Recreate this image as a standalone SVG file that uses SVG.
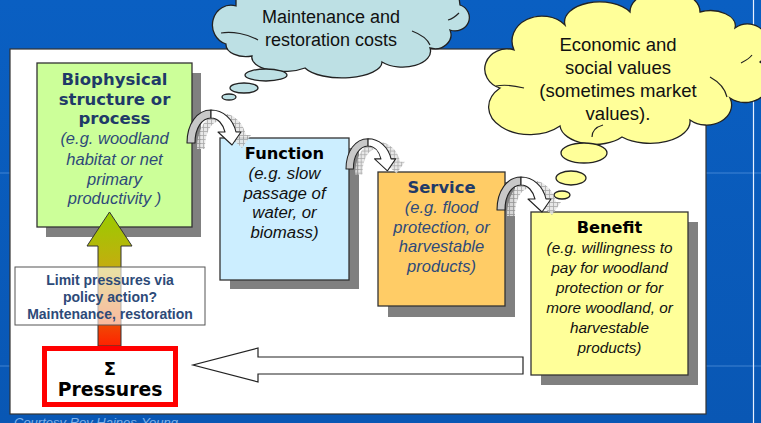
<svg xmlns="http://www.w3.org/2000/svg" width="761" height="423" viewBox="0 0 761 423">
<defs>
<style>
.box{stroke:#333;stroke-width:1.3}
.shadow{fill:#808080}
.hd{font-family:"DejaVu Sans",Verdana,sans-serif;font-weight:bold;text-anchor:middle}
.it{font-family:"Liberation Sans",Arial,sans-serif;font-style:italic;text-anchor:middle}
.cl{font-family:"Liberation Sans",Arial,sans-serif;text-anchor:middle;fill:#111}
.cloud{stroke:#222;stroke-width:1.3}
.fold{fill:none;stroke:#222;stroke-width:1.2}
.ca{stroke:#222;stroke-width:1.1;stroke-linejoin:round}
.lim{font-family:"Liberation Sans",Arial,sans-serif;font-weight:bold;font-size:14px;fill:#2d4a78;text-anchor:middle}
</style>
<linearGradient id="bg" x1="0" y1="0" x2="0" y2="1">
<stop offset="0" stop-color="#0a5fc2"/>
<stop offset="1" stop-color="#0957b4"/>
</linearGradient>
<linearGradient id="up" x1="0" y1="212" x2="0" y2="346" gradientUnits="userSpaceOnUse">
<stop offset="0" stop-color="#99cc00"/>
<stop offset="0.45" stop-color="#c8aa10"/>
<stop offset="1" stop-color="#ff2200"/>
</linearGradient>
<pattern id="hatch" width="4" height="4" patternUnits="userSpaceOnUse">
<rect width="4" height="4" fill="#e4e4e4"/>
<path d="M0,0.5H4M0.5,0V4" stroke="#9a9a9a" stroke-width="0.8"/>
</pattern>
<g id="carrow">
<path d="M10,6 C10,-14 20,-30 34,-30 C46,-30 56,-21 59,-8 L64,-8 L55,5 L41,-8 L48,-8 C46,-16 41,-22 34,-22 C25,-22 18,-12 18,6 Z" fill="url(#hatch)" opacity="0.85"/>
<path class="ca" d="M0,0 C0,-19 10,-33 24,-33 L24,-25 C15,-25 8,-15 8,0 Z" fill="#c8c8c8"/>
<path class="ca" d="M24,-33 C36,-33 46,-24 49,-11 L54,-11 L45,2 L31,-11 L38,-11 C36,-19 31,-25 24,-25 Z" fill="#ffffff"/>
</g>
</defs>

<rect width="761" height="423" fill="url(#bg)"/>
<g opacity="0.25" stroke="#9cc8ff" stroke-width="1.5">
<line x1="0" y1="173" x2="761" y2="173"/>
<line x1="0" y1="366" x2="761" y2="366"/>
</g>
<line x1="753.5" y1="0" x2="753.5" y2="423" stroke="#e8f0ff" stroke-width="1.2"/>
<text x="14" y="427" font-family="Liberation Sans,Arial,sans-serif" font-style="italic" font-size="13" fill="#7fb2ea">Courtesy Roy Haines-Young</text>

<rect x="10" y="49" width="696" height="365" fill="#ffffff" stroke="#333" stroke-width="1.2"/>

<g id="cloud-costs">
<path class="cloud" fill="#bde0e4" d="M226,44 A16,17 0 0 1 236,6 L236,-10 L458,-10 L460,5 A14,13 0 0 1 450,30 A16,14 0 0 1 430,48 A28,16 0 0 1 382,62 A40,16 0 0 1 305,68 A32,14 0 0 1 252,56 A20,12 0 0 1 226,44 Z"/>
<path class="fold" d="M221,33 C232,31 248,34 258,40"/>
<path class="fold" d="M412,31 C420,34 427,38 430,45"/>
<path class="fold" d="M448,20 C452,19 456,16 459,13"/>
<text class="cl" font-size="18" x="331" y="23">Maintenance and</text>
<text class="cl" font-size="18" x="331" y="46">restoration costs</text>
<ellipse cx="266" cy="75" rx="21" ry="6" fill="#bde0e4" class="cloud"/>
<ellipse cx="244" cy="88" rx="14" ry="5" fill="#bde0e4" class="cloud"/>
<ellipse cx="229" cy="97" rx="7" ry="3" fill="#bde0e4" class="cloud"/>
</g>

<g id="cloud-values">
<path class="cloud" fill="#ffff99" d="M500,88 A20,18 0 0 1 514,50 A30,25 0 0 1 565,25 A35,20 0 0 1 630,12 A35,22 0 0 1 700,12 A25,15 0 0 1 735,28 A18,18 0 0 1 760,62 A20,18 0 0 1 730,98 A25,20 0 0 1 690,120 A40,22 0 0 1 622,137 A35,20 0 0 1 560,126 A30,20 0 0 1 500,88 Z"/>
<path class="fold" d="M496,86 C506,84 516,86 524,88"/>
<path class="fold" d="M710,77 C719,82 725,88 727,97"/>
<path class="fold" d="M592,137 C592,131 596,127 603,125"/>
<path class="fold" d="M752,55 C749,59 745,61 741,63"/>
<text class="cl" font-size="18.5" x="618" y="51">Economic and</text>
<text class="cl" font-size="18.5" x="618" y="74">social values</text>
<text class="cl" font-size="18.5" x="618" y="97">(sometimes market</text>
<text class="cl" font-size="18.5" x="618" y="120">values).</text>
<ellipse cx="584" cy="153" rx="23" ry="10" fill="#ffff99" class="cloud"/>
<ellipse cx="571" cy="178" rx="15" ry="7" fill="#ffff99" class="cloud"/>
<ellipse cx="562" cy="195" rx="8" ry="4" fill="#ffff99" class="cloud"/>
</g>

<g id="node-biophysical">
<rect class="shadow" x="46" y="73" width="155" height="164"/>
<rect class="box" x="37" y="63" width="155" height="164" fill="#ccff99"/>
<text class="hd" font-size="16.5" fill="#1f3a68" x="114.5" y="85">Biophysical</text>
<text class="hd" font-size="16.5" fill="#1f3a68" x="114.5" y="105">structure or</text>
<text class="hd" font-size="16.5" fill="#1f3a68" x="114.5" y="124">process</text>
<text class="it" font-size="16.5" fill="#2e4a7a" x="114.5" y="144">(e.g. woodland</text>
<text class="it" font-size="16.5" fill="#2e4a7a" x="114.5" y="165">habitat or net</text>
<text class="it" font-size="16.5" fill="#2e4a7a" x="114.5" y="185">primary</text>
<text class="it" font-size="16.5" fill="#2e4a7a" x="114.5" y="204">productivity )</text>
</g>

<g id="node-function">
<rect class="shadow" x="230" y="148" width="129" height="141"/>
<rect class="box" x="220" y="138" width="129" height="142" fill="#cceeff"/>
<text class="hd" font-size="16.3" fill="#000" x="284.5" y="159">Function</text>
<text class="it" font-size="16.8" fill="#111" x="284.5" y="179">(e.g. slow</text>
<text class="it" font-size="16.8" fill="#111" x="284.5" y="199">passage of</text>
<text class="it" font-size="16.8" fill="#111" x="284.5" y="218">water, or</text>
<text class="it" font-size="16.8" fill="#111" x="284.5" y="238">biomass)</text>
</g>

<g id="node-service">
<rect class="shadow" x="388" y="182" width="127" height="135"/>
<rect class="box" x="378" y="172" width="127" height="134" fill="#ffcc66"/>
<text class="hd" font-size="16.4" fill="#1f3a68" x="441.5" y="193">Service</text>
<text class="it" font-size="16.5" fill="#2e4a7a" x="441.5" y="213">(e.g. flood</text>
<text class="it" font-size="16.5" fill="#2e4a7a" x="441.5" y="233">protection, or</text>
<text class="it" font-size="16.5" fill="#2e4a7a" x="441.5" y="252">harvestable</text>
<text class="it" font-size="16.5" fill="#2e4a7a" x="441.5" y="272">products)</text>
</g>

<g id="node-benefit">
<rect class="shadow" x="541" y="222" width="157" height="163"/>
<rect class="box" x="531" y="212" width="157" height="163" fill="#ffff99"/>
<text class="hd" font-size="16.2" fill="#000" x="609.5" y="233">Benefit</text>
<text class="it" font-size="15.3" fill="#111" x="609.5" y="253">(e.g. willingness to</text>
<text class="it" font-size="15.3" fill="#111" x="609.5" y="273">pay for woodland</text>
<text class="it" font-size="15.3" fill="#111" x="609.5" y="293">protection or for</text>
<text class="it" font-size="15.3" fill="#111" x="609.5" y="313">more woodland, or</text>
<text class="it" font-size="15.3" fill="#111" x="609.5" y="333">harvestable</text>
<text class="it" font-size="15.3" fill="#111" x="609.5" y="353">products)</text>
</g>

<g id="connectors">
<use href="#carrow" transform="translate(187,143)"/>
<use href="#carrow" transform="translate(346,169) scale(0.92)"/>
<use href="#carrow" transform="translate(497,210)"/>
<path d="M98,346 L98,246 L87,246 L109.5,212 L132,246 L121,246 L121,346 Z" fill="url(#up)" stroke="#333" stroke-width="1"/>
<path d="M523,357 L258,357 L258,348 L193,365 L258,382 L258,374 L523,374 Z" fill="#ffffff" stroke="#222" stroke-width="1.2"/>
</g>

<g id="label-limit">
<rect x="15" y="267" width="190" height="58" fill="#ffffff" fill-opacity="0.62" stroke="#555" stroke-width="1"/>
<text class="lim" x="110" y="285">Limit pressures via</text>
<text class="lim" x="110" y="302">policy action?</text>
<text class="lim" x="110" y="319">Maintenance, restoration</text>
</g>

<g id="node-pressures">
<rect x="44.5" y="348.5" width="131" height="56" fill="#ffffff" stroke="#ff0000" stroke-width="5"/>
<text class="hd" font-size="18" fill="#000" x="110" y="375">Σ</text>
<text class="hd" font-size="18.8" fill="#000" x="110" y="396">Pressures</text>
</g>
</svg>
